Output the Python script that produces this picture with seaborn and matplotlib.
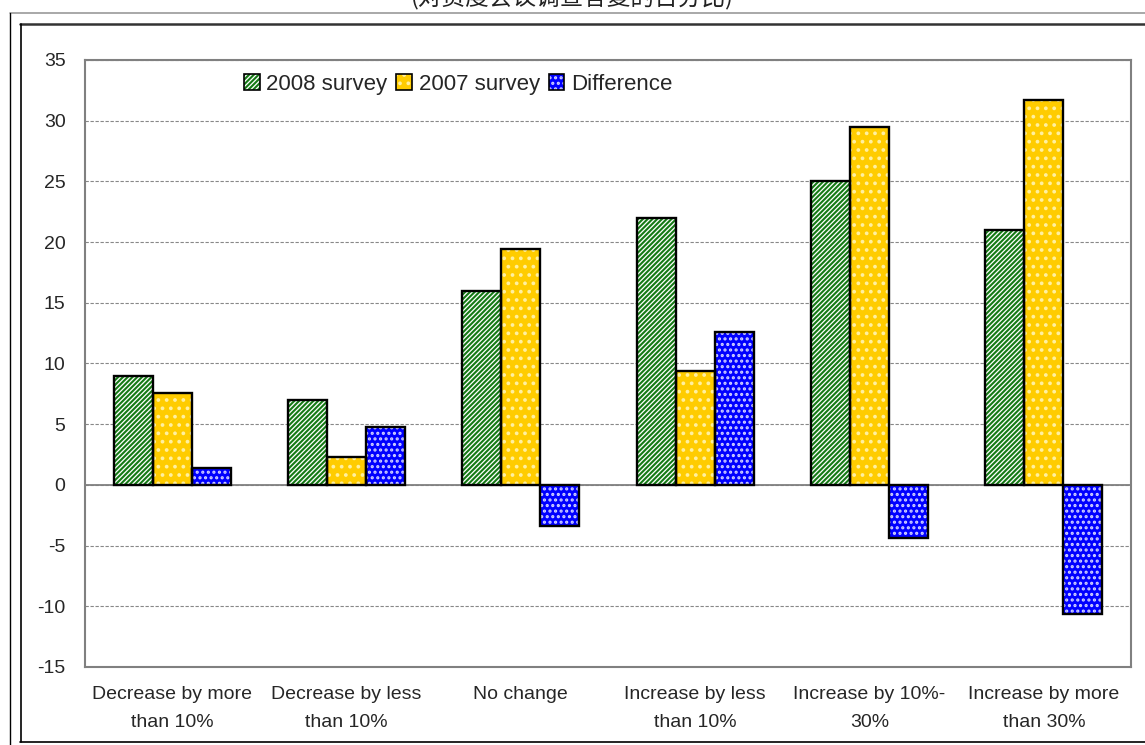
import pandas as pd
import seaborn as sns
import matplotlib.pyplot as plt
from matplotlib.patches import Rectangle, Patch
from matplotlib.lines import Line2D

# === DATI ===
categories = ['Decrease by more\nthan 10%', 'Decrease by less\nthan 10%', 'No change',
              'Increase by less\nthan 10%', 'Increase by 10%-\n30%', 'Increase by more\nthan 30%']
survey_2008 = [9, 7, 16, 22, 25, 21]
survey_2007 = [7.6, 2.3, 19.4, 9.4, 29.5, 31.7]
difference = [1.4, 4.8, -3.4, 12.6, -4.4, -10.6]
series = ['2008 survey', '2007 survey', 'Difference']
yticks = list(range(-15, 40, 5))

# stile di ogni serie: (sfondo, colore tratteggio, tratteggio)
styles = {
  '2008 survey': ('white', '#157a15', '///////'),
  '2007 survey': ('#ffcc00', '#fff0a0', '..'),
  'Difference': ('#0000ff', '#d0d0ff', '...'),
}

df = pd.DataFrame({
  'category': categories * 3,
  'series': [s for s in series for _ in categories],
  'value': survey_2008 + survey_2007 + difference,
})

sns.set_style('white')
plt.rcParams['font.family'] = ['Liberation Sans', 'Noto Sans CJK SC', 'DejaVu Sans']
plt.rcParams['axes.unicode_minus'] = False
plt.rcParams['hatch.linewidth'] = 1.5

fig = plt.figure(figsize=(11.45, 7.45), dpi=100)
ax = fig.add_axes([0.0742, 0.1047, 0.9136, 0.8148])

sns.barplot(data=df, x='category', y='value', hue='series', order=categories,
            hue_order=series, width=0.67, gap=0, errorbar=None, legend=False, ax=ax)

# applica i tratteggi e il bordo nero
n = len(categories)
for i, p in enumerate(list(ax.patches)):
  face, hcol, hatch = styles[series[i // n]]
  p.set_facecolor(face)
  p.set_edgecolor(hcol)
  p.set_hatch(hatch)
  p.set_linewidth(0)
  ax.add_patch(Rectangle(p.get_xy(), p.get_width(), p.get_height(), fill=False,
                         edgecolor='black', linewidth=1.7, zorder=3))

ax.set_ylim(-15, 35)
ax.set_xlim(-0.5, n - 0.5)
ax.set_yticks(yticks)
ax.yaxis.grid(True, linestyle=(0, (3, 1.5)), color='#888888', linewidth=0.8)
ax.set_axisbelow(True)
ax.axhline(0, color='#808080', linewidth=1.3, zorder=2)
ax.set_xlabel('')
ax.set_ylabel('')
ax.tick_params(axis='both', labelsize=14, length=0)
ax.tick_params(axis='x', pad=14)
ax.tick_params(axis='y', pad=14)
for lab in ax.get_xticklabels():
  lab.set_verticalalignment('top')
  lab.set_linespacing(1.8)
for s in ax.spines.values():
  s.set_color('#808080')
  s.set_linewidth(1.5)

# legenda
handles = []
for s in series:
  face, hcol, hatch = styles[s]
  h = Patch(facecolor=face, edgecolor='black', hatch=hatch, linewidth=1.2)
  handles.append(h)
leg = ax.legend(handles, series, ncol=3, frameon=False, fontsize=16,
                loc='upper left', bbox_to_anchor=(0.133, 1.01),
                handlelength=0.7, handleheight=0.7, handletextpad=0.3,
                columnspacing=0.4)
for h, s in zip(leg.legend_handles, series):
  h._hatch_color = plt.matplotlib.colors.to_rgba(styles[s][1])

# cornici della pagina
fig.add_artist(Line2D([9.5 / 1145, 1], [1 - 13 / 745] * 2, color='#999999', linewidth=1.2))
fig.add_artist(Line2D([9.5 / 1145] * 2, [0, 1 - 13 / 745], color='black', linewidth=1.0))
fig.add_artist(Line2D([20 / 1145, 1], [1 - 23.5 / 745] * 2, color='#333333', linewidth=1.8))
fig.add_artist(Line2D([20.5 / 1145] * 2, [3 / 745, 1 - 23.5 / 745], color='black', linewidth=1.2))
fig.add_artist(Line2D([20 / 1145, 1], [3 / 745] * 2, color='black', linewidth=1.2))

# titolo tagliato in alto (come nell'originale)
fig.text(0.5, 1 + 3 / 745, '(对资度会议调查答复的百分比)', ha='center', va='center',
         fontsize=17, family=['Noto Sans CJK SC', 'DejaVu Sans'], color='#222222')

fig.savefig('out.png', dpi=100)
